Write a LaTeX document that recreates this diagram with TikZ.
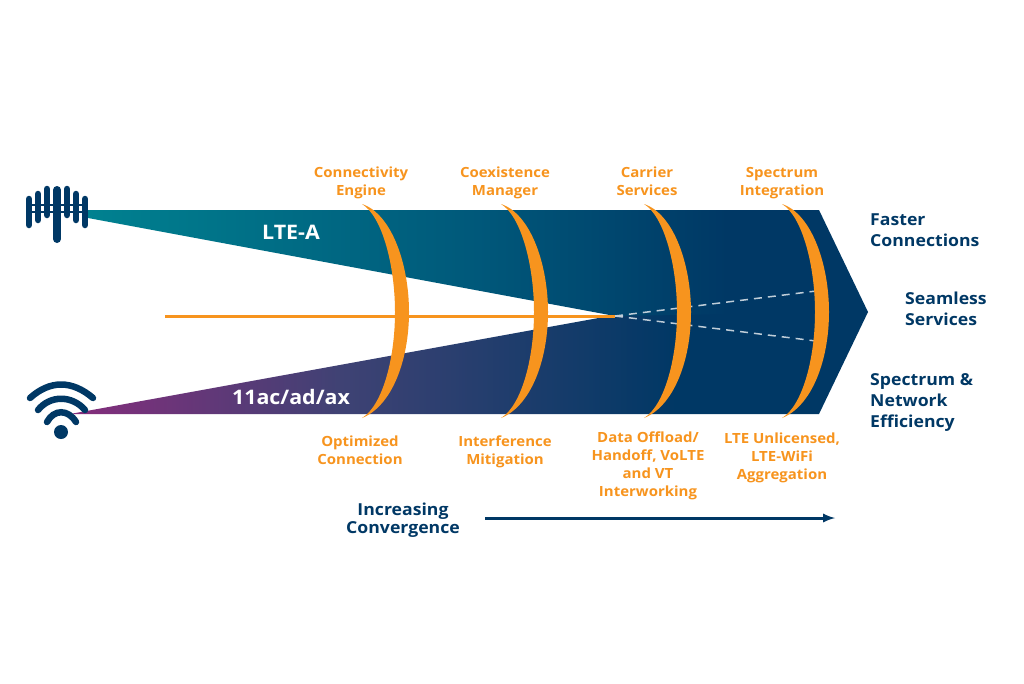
\documentclass[tikz,border=0pt]{standalone}
\usepackage{fontspec}
\setmainfont{Open Sans}[FakeStretch=1.07]
\definecolor{navy}{HTML}{003865}
\definecolor{teal0}{HTML}{008190}
\definecolor{teal1}{HTML}{00587A}
\definecolor{plum}{HTML}{862D7C}
\definecolor{plum1}{HTML}{3F4274}
\definecolor{amber}{HTML}{F7941E}
\pgfdeclarehorizontalshading{lteband}{100bp}{color(0bp)=(teal0); color(25bp)=(teal0); color(50bp)=(teal1); color(66bp)=(navy); color(100bp)=(navy)}
\pgfdeclarehorizontalshading{wifiband}{100bp}{color(0bp)=(plum); color(25bp)=(plum); color(42bp)=(plum1); color(63bp)=(navy); color(100bp)=(navy)}
\tikzset{
  lab/.style={text=amber,font=\fontsize{14}{18}\selectfont\bfseries,align=center,inner sep=0pt},
  gain/.style={text=navy,font=\fontsize{16.5}{21}\selectfont\bfseries,align=left,inner sep=0pt},
  band/.style={text=white,font=\fontsize{20}{22}\selectfont\bfseries,inner sep=0pt},
  icon/.style={navy,line cap=round,line width=6.5pt},
}
\begin{document}
\begin{tikzpicture}[x=1pt,y=-1pt]
    \useasboundingbox (0,0) rectangle (1024,683);
    \fill[white] (0,0) rectangle (1024,683);
    % bands
    \shade[shading=wifiband] (70,414) -- (819,414) -- (868,312) -- (800,300) -- (615,315) -- cycle;
    \shade[shading=lteband] (88,210) -- (819,210) -- (868,312) -- (615,316) -- (88,218) -- cycle;
    % lines inside the bands
    \coordinate (apex) at (615,316);
    \coordinate (feed) at (165,316);
    \coordinate (dashup) at (816,291);
    \coordinate (dashdn) at (816,341);
    \draw[white!75!navy,line width=1.5pt,dash pattern=on 8pt off 6pt] (apex) -- (dashup);
    \draw[white!75!navy,line width=1.5pt,dash pattern=on 8pt off 6pt] (apex) -- (dashdn);
    \draw[amber,line width=3pt] (feed) -- (apex);
    % lenses
    \foreach \x in {362,501,644,782}{% top tip of each lens
      \fill[amber,shift={(\x,0)}] (0,204) .. controls (30,214) and (47,265) .. (47,312)
        .. controls (47,360) and (30,406) .. (0,418)
        .. controls (20,406) and (33,360) .. (33,312)
        .. controls (33,265) and (20,216) .. (0,204) -- cycle;}
    % tower
    \foreach \x/\t/\b in {29/199/225,38/194/220,47/189/215,67/189/215,76/194/220,85/199/225}{
      \draw[icon] (\x,\t) -- (\x,\b);}
    \draw[icon,line width=8pt] (57,190) -- (57,239);
    \draw[navy,line width=1.8pt] (29,205) -- (88,205);
    \draw[navy,line width=1.8pt] (29,212) -- (88,212);
    % wifi
    \fill[navy] (61,432) circle (7);
    \draw[icon] (30,398) .. controls (50,380) and (72,380) .. (93,398);
    \draw[icon] (38,410) .. controls (50,395) and (72,395) .. (85,410);
    \draw[icon] (47,422) .. controls (54,409) and (68,409) .. (76,422);
    % labels
    \node[band] (lte) at (291,232) {LTE-A};
    \node[band] (wifi) at (291,397) {11ac/ad/ax};
    \node[lab] (engine) at (361,183) {Connectivity\\Engine};
    \node[lab] (manager) at (505,183) {Coexistence\\Manager};
    \node[lab] (carrier) at (647,181) {Carrier\\Services};
    \node[lab] (integ) at (782,183) {Spectrum\\Integration};
    \node[lab] (optim) at (360,450) {Optimized\\Connection};
    \node[lab] (interf) at (505,452) {Interference\\Mitigation};
    \node[lab] (offload) at (648,466) {Data Offload/\\Handoff, VoLTE\\and VT\\Interworking};
    \node[lab] (unlic) at (782,458) {LTE Unlicensed,\\LTE-WiFi\\Aggregation};
    \node[gain,anchor=west] (faster) at (870,230) {Faster\\Connections};
    \node[gain,anchor=west] (seamless) at (905,309) {Seamless\\Services};
    \node[gain,anchor=west] (effic) at (870,402) {Spectrum \&\\Network\\Efficiency};
    \node[gain,align=center,font=\fontsize{16.5}{18}\selectfont\bfseries] (conv) at (403,520) {Increasing\\Convergence};
    \coordinate (arrstart) at (485,518);
    \coordinate (arrend) at (835,518);
    \draw[navy,line width=3pt,-latex] (arrstart) -- (arrend);
\end{tikzpicture}
\end{document}
